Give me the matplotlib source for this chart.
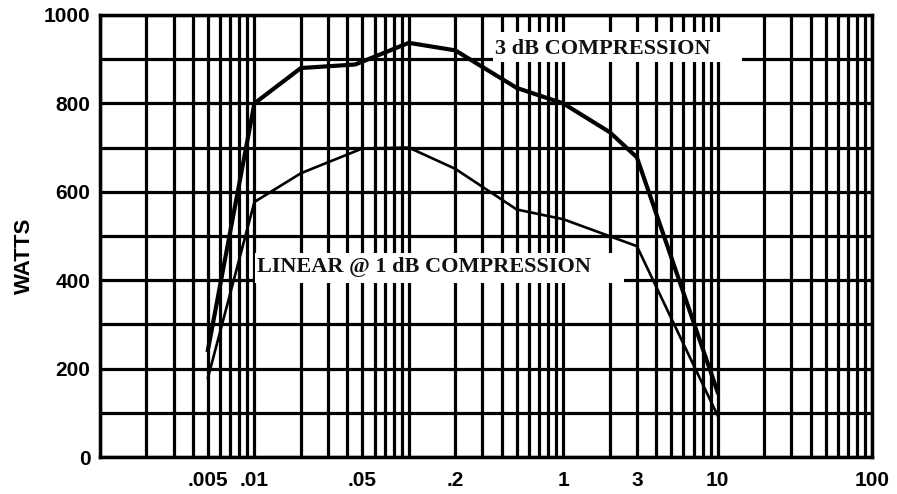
import matplotlib
matplotlib.use("Agg")
import matplotlib.pyplot as plt
from matplotlib.patches import Rectangle
from matplotlib.ticker import LogLocator, FixedLocator, MultipleLocator, NullFormatter
import numpy as np

# ---- data ----
x_3db = [0.005, 0.01, 0.02, 0.045, 0.1, 0.2, 0.5, 1, 2, 3, 10]
y_3db = [242, 800, 880, 888, 937, 920, 835, 800, 735, 678, 147]

x_lin = [0.005, 0.01, 0.02, 0.05, 0.1, 0.2, 0.5, 1, 3, 10]
y_lin = [179, 577, 642, 698, 700, 652, 560, 538, 477, 94]

xtick_vals = [0.005, 0.01, 0.05, 0.2, 1, 3, 10, 100]
xtick_labels = [".005", ".01", ".05", ".2", "1", "3", "10", "100"]
ytick_vals = [0, 200, 400, 600, 800, 1000]
ytick_labels = ["0", "200", "400", "600", "800", "1000"]

label_3db = "3 dB COMPRESSION"
label_lin = "LINEAR @ 1 dB COMPRESSION"
ylabel = "WATTS"

# ---- figure ----
fig = plt.figure(figsize=(8.97, 4.94), dpi=100)
ax = fig.add_axes([100/897, 1-457/494, 772/897, 442/494])

ax.set_xscale("log")
ax.set_xlim(0.001, 100)
ax.set_ylim(0, 1000)

ax.xaxis.set_major_locator(FixedLocator(xtick_vals))
ax.set_xticklabels(xtick_labels)
ax.xaxis.set_minor_locator(LogLocator(base=10, subs=np.arange(1, 10), numticks=50))
ax.xaxis.set_minor_formatter(NullFormatter())
ax.set_yticks(ytick_vals)
ax.set_yticklabels(ytick_labels)
ax.yaxis.set_minor_locator(MultipleLocator(100))

for lab in ax.get_xticklabels() + ax.get_yticklabels():
    lab.set_fontfamily("Liberation Sans")
    lab.set_fontweight("bold")
    lab.set_fontsize(15)
ax.tick_params(which="both", length=0)
ax.tick_params(axis="x", pad=10)
ax.tick_params(axis="y", pad=7)

ax.set_axisbelow(True)
ax.grid(True, which="both", color="black", linewidth=2.3)
for s in ax.spines.values():
    s.set_linewidth(2.5)
    s.set_color("black")

ax.plot(x_3db, y_3db, color="black", linewidth=3.0, zorder=4, solid_joinstyle="round")
ax.plot(x_lin, y_lin, color="black", linewidth=1.9, zorder=4, solid_joinstyle="round")

# white label boxes
ax.add_patch(Rectangle((0.509, 0.894), 0.323, 0.068, transform=ax.transAxes,
                       facecolor="white", edgecolor="none", zorder=3))
ax.add_patch(Rectangle((0.2008, 0.3937), 0.478, 0.068, transform=ax.transAxes,
                       facecolor="white", edgecolor="none", zorder=3))

ax.text(0.5117, 0.923, label_3db, transform=ax.transAxes, ha="left", va="center",
        family="Liberation Serif", weight="bold", fontsize=16, color="#111111", zorder=5)
ax.text(0.2034, 0.43, label_lin, transform=ax.transAxes, ha="left", va="center",
        family="Liberation Serif", weight="bold", fontsize=16, color="#111111", zorder=5)

fig.text(24/897, 1-256/494, ylabel, rotation=90, ha="center", va="center",
         family="Liberation Sans", weight="bold", fontsize=16)

fig.savefig("out.png", dpi=100)
